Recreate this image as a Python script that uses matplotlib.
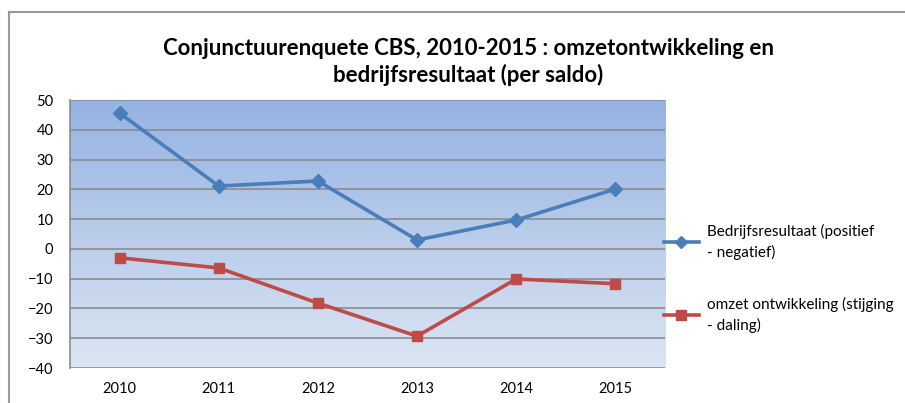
import numpy as np
import matplotlib
matplotlib.use("Agg")
import matplotlib.pyplot as plt
from matplotlib.colors import LinearSegmentedColormap
from matplotlib.lines import Line2D

years = ["2010", "2011", "2012", "2013", "2014", "2015"]
bedrijfsresultaat = [45.6, 21.1, 22.8, 3.0, 9.7, 20.1]
omzet = [-3.0, -6.4, -18.2, -29.3, -10.1, -11.7]

label_bedrijf = "Bedrijfsresultaat (positief\n- negatief)"
label_omzet = "omzet ontwikkeling (stijging\n- daling)"
title = "Conjunctuurenquete CBS, 2010-2015 : omzetontwikkeling en\nbedrijfsresultaat (per saldo)"

plt.rcParams["font.family"] = ["Lato", "DejaVu Sans"]

fig = plt.figure(figsize=(9.05, 4.03), dpi=100)
ax = fig.add_axes([70 / 905, 1 - 368 / 403, 595 / 905, 268 / 403])

# outer chart border (top and left visible)
fig.add_artist(Line2D([9 / 905, 9 / 905], [0, 1 - 12 / 403], transform=fig.transFigure,
                      color="#999999", lw=1.5))
fig.add_artist(Line2D([9 / 905, 1], [1 - 12 / 403, 1 - 12 / 403], transform=fig.transFigure,
                      color="#999999", lw=1.5))

# gradient background
cmap = LinearSegmentedColormap.from_list("bg", ["#dce5f3", "#95b3e2"])
grad = np.linspace(0, 1, 256).reshape(-1, 1)
ax.imshow(grad, aspect="auto", cmap=cmap, origin="lower",
          extent=[0, 1, 0, 1], transform=ax.transAxes, zorder=0)

x = np.arange(len(years))
ax.plot(x, bedrijfsresultaat, color="#4a7ebb", lw=2.6, marker="D", ms=7,
        label=label_bedrijf, zorder=3)
ax.plot(x, omzet, color="#be4b48", lw=2.6, marker="s", ms=7.5,
        label=label_omzet, zorder=3)

ax.set_xlim(-0.5, 5.5)
ax.set_ylim(-40, 50)
ax.set_yticks(range(-40, 51, 10))
ax.set_xticks(x)
ax.set_xticklabels(years)
ax.grid(axis="y", color="#8c8c8c", lw=1.2)
ax.set_axisbelow(False)
for s in ["top", "right", "bottom"]:
    ax.spines[s].set_visible(False)
ax.spines["left"].set_color("#8c8c8c")
ax.spines["left"].set_linewidth(1.2)
ax.tick_params(axis="both", length=0, labelsize=10.5, colors="black")
ax.tick_params(axis="y", pad=12)
ax.tick_params(axis="x", pad=10)

fig.text(468 / 905, 1 - 62 / 403, title, ha="center", va="center",
         fontsize=16, fontweight="bold", linespacing=1.28)

leg = fig.legend(loc="upper left", bbox_to_anchor=(650 / 905, 1 - 210 / 403),
                 frameon=False, fontsize=11, handlelength=2.3, labelspacing=2.4,
                 handletextpad=0.5, markerscale=0.9)
for t in leg.get_texts():
    t.set_linespacing(1.5)

fig.savefig("out.png", dpi=100)
